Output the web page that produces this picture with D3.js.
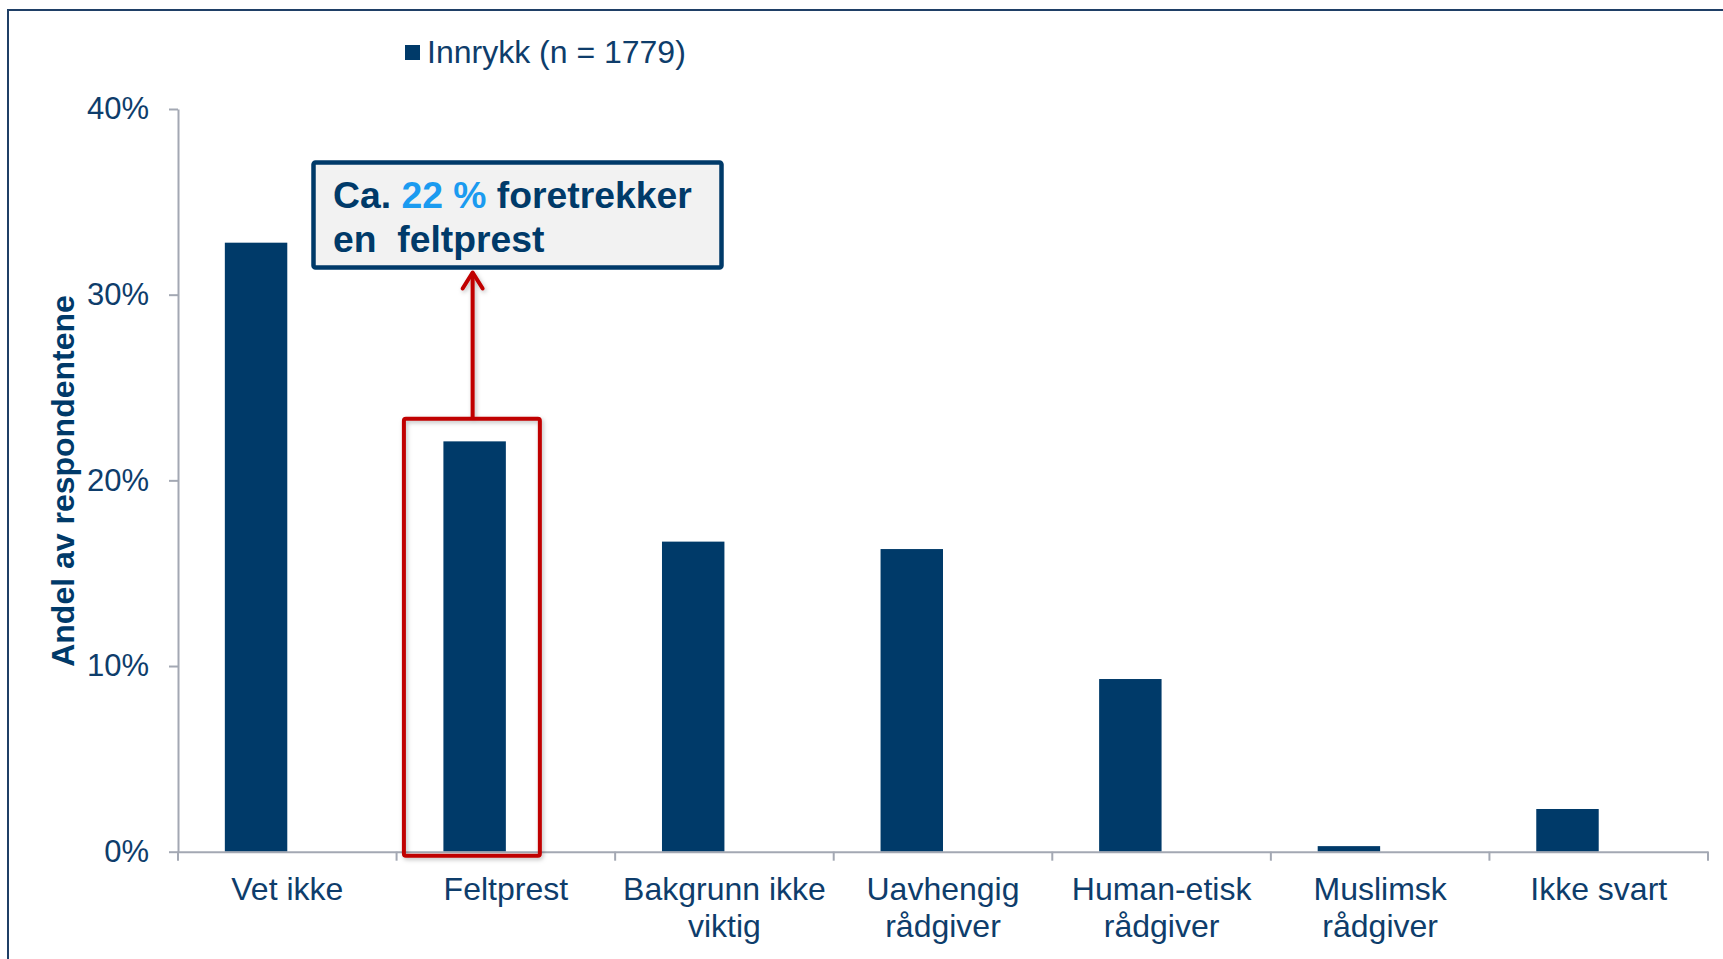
<!DOCTYPE html>
<html>
<head>
<meta charset="utf-8">
<script src="https://cdn.jsdelivr.net/npm/d3@7"></script>
<style>
  html, body { margin: 0; padding: 0; background: #ffffff; overflow: hidden; }
  svg { display: block; font-family: "Liberation Sans", Arial, Helvetica, sans-serif; }
</style>
</head>
<body>
<svg id="chart" width="1723" height="959"></svg>
<script>
// ---- data ----
const categories = [
  ["Vet ikke"],
  ["Feltprest"],
  ["Bakgrunn ikke", "viktig"],
  ["Uavhengig", "rådgiver"],
  ["Human-etisk", "rådgiver"],
  ["Muslimsk", "rådgiver"],
  ["Ikke svart"]
];
const seriesName = "Innrykk (n = 1779)";
const innrykk = [32.8, 22.1, 16.7, 16.3, 9.3, 0.3, 2.3];
const seriesSlots = ["Innrykk", "(tom)"];
const yTicks = [0, 10, 20, 30, 40];
const yTitle = "Andel av respondentene";
const highlightIndex = 1;
const noteParts = [["Ca. ", "dark"], ["22 %", "light"], [" foretrekker", "dark"]];
const noteLine2 = "en  feltprest";

// ---- styles ----
const NAVY = "#003A69";
const TEXT = "#0E3D6B";
const AXIS = "#A3A8B3";
const RED = "#C00000";
const LIGHTBLUE = "#1B9BF0";

const svg = d3.select("#chart");
const defs = svg.append("defs");
const f = defs.append("filter").attr("id", "shadow").attr("x", "-20%").attr("y", "-20%").attr("width", "140%").attr("height", "140%");
f.append("feDropShadow").attr("dx", 1.5).attr("dy", 2).attr("stdDeviation", 2).attr("flood-color", "#000").attr("flood-opacity", 0.25);

// outer frame (top and left edges visible)
svg.append("rect").attr("x", 8).attr("y", 10).attr("width", 1760).attr("height", 1000)
  .attr("fill", "none").attr("stroke", "#1F3F66").attr("stroke-width", 2);

const plot = { left: 178, right: 1708, top: 109, bottom: 851.7 };

const keys = categories.map((c, i) => i);
const x = d3.scaleBand().domain(keys).range([plot.left, plot.right]).paddingInner(0).paddingOuter(0);
const xs = d3.scaleBand().domain(seriesSlots).range([0, x.bandwidth()]).paddingInner(0).paddingOuter(0.75);
const y = d3.scaleLinear().domain([0, 40]).range([plot.bottom, plot.top]);

// y axis
const yAxis = svg.append("g").attr("transform", `translate(${plot.left},0)`)
  .call(d3.axisLeft(y).tickValues(yTicks).tickFormat(d => d + "%").tickSize(9).tickPadding(20).tickSizeOuter(0));
yAxis.select(".domain").attr("stroke", AXIS).attr("stroke-width", 2);
yAxis.selectAll(".tick line").attr("stroke", AXIS).attr("stroke-width", 2);
yAxis.selectAll(".tick text").attr("fill", TEXT).attr("font-size", 31).attr("font-family", "Liberation Sans, Arial, sans-serif");

// y title
svg.append("text")
  .attr("transform", `translate(74,481) rotate(-90)`)
  .attr("text-anchor", "middle")
  .attr("font-size", 32).attr("font-weight", "bold").attr("fill", NAVY)
  .text(yTitle);

// bars
svg.append("g").selectAll("rect").data(innrykk).join("rect")
  .attr("x", (d, i) => x(i) + xs("Innrykk"))
  .attr("width", xs.bandwidth())
  .attr("y", d => y(d))
  .attr("height", d => y(0) - y(d))
  .attr("fill", NAVY);

// x axis
const xAxis = svg.append("g").attr("transform", `translate(0,${plot.bottom})`)
  .call(d3.axisBottom(x).tickSize(0).tickFormat(""));
xAxis.select(".domain").attr("stroke", AXIS).attr("stroke-width", 2);
const boundaries = keys.map(k => x(k)).concat([x(keys[keys.length - 1]) + x.bandwidth()]);
xAxis.selectAll("line.bound").data(boundaries).join("line").attr("class", "bound")
  .attr("x1", d => d).attr("x2", d => d).attr("y1", 0).attr("y2", 9)
  .attr("stroke", AXIS).attr("stroke-width", 2);

const labels = svg.append("g").selectAll("text").data(categories).join("text")
  .attr("text-anchor", "middle")
  .attr("font-size", 32).attr("fill", TEXT)
  .attr("x", (d, i) => x(i) + x.bandwidth() / 2)
  .attr("y", 900);
labels.selectAll("tspan").data(d => d).join("tspan")
  .attr("x", function () { return d3.select(this.parentNode).attr("x"); })
  .attr("dy", (d, j) => j === 0 ? 0 : 37)
  .text(d => d);

// legend
svg.append("rect").attr("x", 405).attr("y", 45).attr("width", 15).attr("height", 15).attr("fill", NAVY);
svg.append("text").attr("x", 427).attr("y", 63).attr("font-size", 32).attr("fill", TEXT).text(seriesName);

// highlight box around Feltprest bar
const hx = x(highlightIndex) + xs("Innrykk");
const hw = xs.bandwidth();
const hTop = y(innrykk[highlightIndex]);
const hl = svg.append("g").attr("filter", "url(#shadow)");
hl.append("rect")
  .attr("x", hx - 39.5).attr("y", hTop - 22.5)
  .attr("width", hw + 39.5 + 34).attr("height", (y(0) + 4) - (hTop - 22.5))
  .attr("rx", 2).attr("fill", "none").attr("stroke", RED).attr("stroke-width", 4).attr("stroke-linejoin", "round");

// arrow
const ax = hx + hw / 2 - 2;
const boxBottom = 267.5;
hl.append("line").attr("x1", ax).attr("x2", ax).attr("y1", hTop - 22.5).attr("y2", boxBottom + 5)
  .attr("stroke", RED).attr("stroke-width", 4);
hl.append("path")
  .attr("d", `M${ax - 10},${boxBottom + 21} L${ax},${boxBottom + 5} L${ax + 10},${boxBottom + 21}`)
  .attr("fill", "none").attr("stroke", RED).attr("stroke-width", 4).attr("stroke-linecap", "round").attr("stroke-linejoin", "round");

// annotation box
svg.append("rect").attr("x", 313.5).attr("y", 162.5).attr("width", 408).attr("height", 105)
  .attr("rx", 2).attr("fill", "#F2F2F2").attr("stroke", NAVY).attr("stroke-width", 4.5);
const note = svg.append("text").attr("x", 333).attr("y", 208)
  .attr("font-size", 37.3).attr("font-weight", "bold").attr("fill", NAVY)
  .style("white-space", "pre");
note.selectAll("tspan").data(noteParts).join("tspan")
  .attr("fill", d => d[1] === "light" ? LIGHTBLUE : NAVY)
  .text(d => d[0]);
svg.append("text").attr("x", 333).attr("y", 252)
  .attr("font-size", 37.3).attr("font-weight", "bold").attr("fill", NAVY)
  .attr("xml:space", "preserve").style("white-space", "pre")
  .text(noteLine2);
</script>
</body>
</html>
